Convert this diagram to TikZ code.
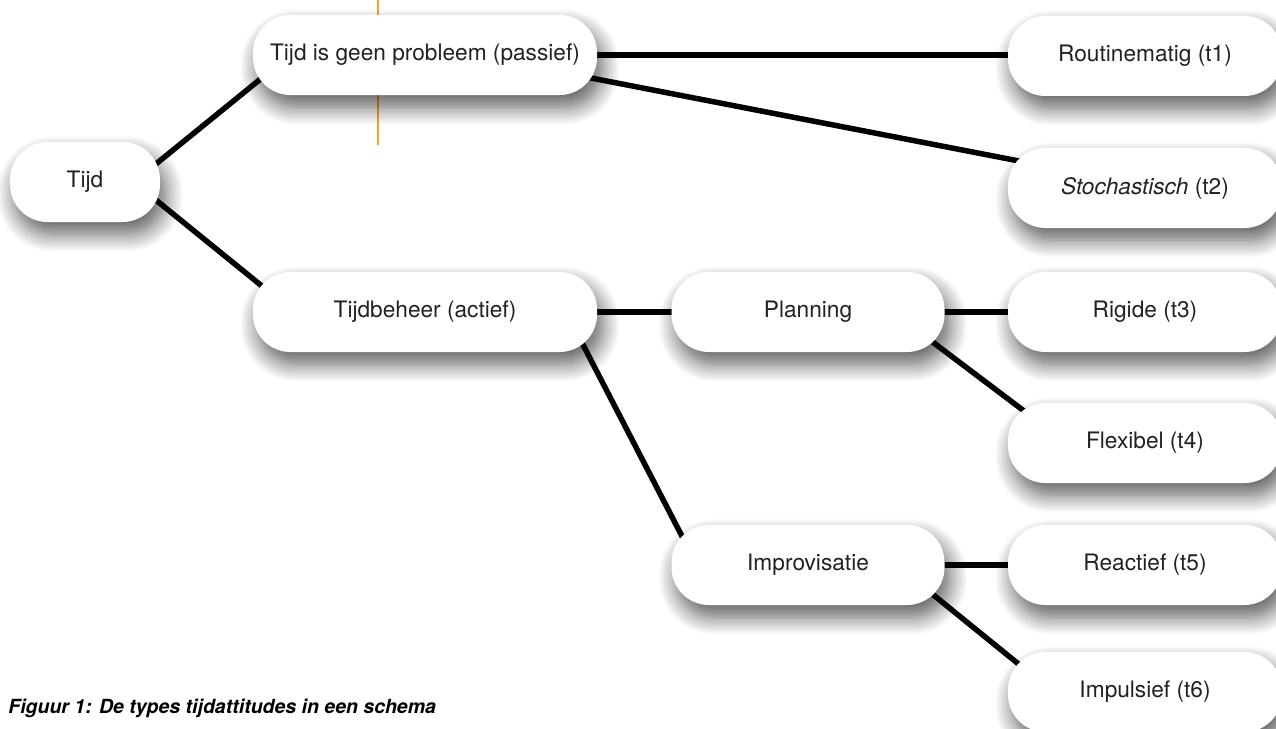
\documentclass[tikz,border=0pt]{standalone}
\usepackage{fontspec}
\setmainfont{TeX Gyre Heros}
\usetikzlibrary{shadows.blur,backgrounds}

\definecolor{tekst}{HTML}{222222}
\definecolor{oranje}{HTML}{F5A623}

\tikzset{
  pill/.style={fill=white, rounded corners=0.75cm, minimum height=1.6cm, inner sep=0pt,
    text=tekst, font=\fontsize{12.9}{15}\selectfont,
    blur shadow={shadow xshift=0.1cm, shadow yshift=-0.24cm, shadow blur radius=0.36cm,
      shadow blur steps=14, shadow opacity=65}},
  link/.style={line width=0.11cm, black, shorten <=-0.3cm, shorten >=-0.3cm}
}

\begin{document}
\begin{tikzpicture}
        \useasboundingbox (0,0) rectangle (25.52,-14.58);

        \draw [oranje, line width=0.03cm] (7.56,0) -- (7.56,-2.90);

        \node [pill, minimum width=3cm] (tijd) at (1.70,-3.64) {Tijd};
        \node [pill, minimum width=6.88cm] (passief) at (8.50,-1.10) {Tijd is geen probleem (passief)};
        \node [pill, minimum width=6.88cm] (beheer) at (8.50,-6.24) {Tijdbeheer (actief)};
        \node [pill, minimum width=5.46cm] (planning) at (16.16,-6.24) {Planning};
        \node [pill, minimum width=5.46cm] (improv) at (16.16,-11.30) {Improvisatie};

        \node [pill, minimum width=5.48cm] (t1) at (22.90,-1.12) {Routinematig (t1)};
        \node [pill, minimum width=5.48cm] (t2) at (22.90,-3.76) {\textit{Stochastisch} (t2)};
        \node [pill, minimum width=5.48cm] (t3) at (22.90,-6.24) {Rigide (t3)};
        \node [pill, minimum width=5.48cm] (t4) at (22.90,-8.86) {Flexibel (t4)};
        \node [pill, minimum width=5.48cm] (t5) at (22.90,-11.30) {Reactief (t5)};
        \node [pill, minimum width=5.48cm] (t6) at (22.90,-13.84) {Impulsief (t6)};

        \node [anchor=west, inner sep=0pt, text=black, font=\fontsize{11.1}{13}\selectfont\bfseries\itshape] (caption) at (0.16,-14.16) {Figuur 1: De types tijdattitudes in een schema};

        \begin{scope}[on background layer]
            \draw [link] (tijd.16) -- (passief.190);
            \draw [link] (tijd.-16) -- (beheer.169);
            \draw [link] (passief) -- (passief -| t1);
            \draw [link] (passief.-8) -- (t2.168);
            \draw [link] (beheer) -- (planning);
            \draw [link] (beheer.-14) -- (improv.163);
            \draw [link] (planning) -- (t3);
            \draw [link] (planning.-16) -- (t4.163);
            \draw [link] (improv) -- (t5);
            \draw [link] (improv.-16) -- (t6.165);
        \end{scope}
    \end{tikzpicture}
\end{document}
